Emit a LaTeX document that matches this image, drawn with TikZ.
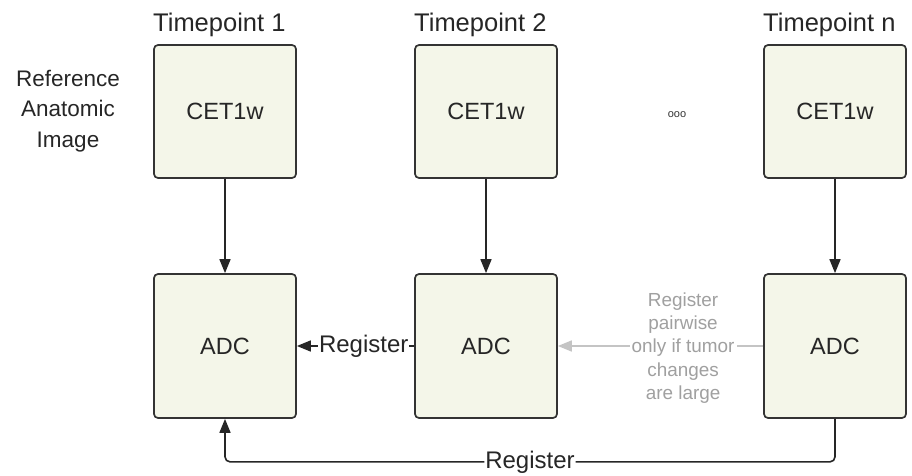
\documentclass[tikz,border=0pt]{standalone}
\usepackage{fontspec}
\setmainfont{Liberation Sans}
\usetikzlibrary{arrows.meta,positioning}
\definecolor{boxfill}{HTML}{F4F6E9}
\definecolor{boxline}{HTML}{333333}
\definecolor{softgray}{HTML}{A0A0A0}
\definecolor{arrowgray}{HTML}{C4C4C4}
\tikzset{
  imgbox/.style={draw=boxline, fill=boxfill, line width=1.7pt, rounded corners=4pt,
    minimum width=142pt, inner sep=0pt,
    font=\fontsize{23.5}{26}\selectfont, text=black!85},
  title/.style={anchor=base west, inner sep=0pt, font=\fontsize{25.5}{30}\selectfont, text=black!85},
  conn/.style={line width=1.6pt, draw=black!85, -{Triangle[length=14pt,width=11pt]}},
  grayconn/.style={line width=1.6pt, draw=arrowgray, -{Triangle[length=14pt,width=11pt]}},
  lbl/.style={fill=white, inner sep=1pt, font=\fontsize{24}{26}\selectfont, text=black!85},
  graylbl/.style={fill=white, inner sep=2pt, align=center, text=softgray,
    font=\fontsize{18.9}{23.4}\selectfont},
}
\begin{document}
\begin{tikzpicture}[x=1pt,y=-1pt]
\useasboundingbox (0,0) rectangle (912,476);
\node[imgbox, minimum height=133pt] (c1) at (225,111.5) {CET1w};
\node[imgbox, minimum height=133pt] (c2) at (486,111.5) {CET1w};
\node[imgbox, minimum height=133pt] (cn) at (835,111.5) {CET1w};
\node[imgbox, minimum height=144pt] (a1) at (225,346) {ADC};
\node[imgbox, minimum height=144pt] (a2) at (486,346) {ADC};
\node[imgbox, minimum height=144pt] (an) at (835,346) {ADC};
\node[title] (t1) at (153,32) {Timepoint 1};
\node[title] (t2) at (414,32) {Timepoint 2};
\node[title] (tn) at (763,32) {Timepoint n};
\node[align=center, inner sep=0pt, text=black!85, font=\fontsize{22.5}{30.5}\selectfont] (ref) at (68,111) {Reference\\Anatomic\\Image};
\node[inner sep=0pt, text=black!80, font=\fontsize{11}{12}\selectfont] (dots) at (677,115) {ooo};
\draw[conn] (c1) -- (a1);
\draw[conn] (c2) -- (a2);
\draw[conn] (cn) -- (an);
\draw[conn] (a2.west) -- node[lbl, pos=0.43] {Register} (a1.east);
\draw[grayconn] (an.west) -- node[graylbl, pos=0.39, yshift=-2pt] {Register\\pairwise\\only if tumor\\changes\\are large} (a2.east);
\draw[conn, rounded corners=5pt] (an.south) -- ++(0,43) -| node[lbl, pos=0.25] {Register} (a1.south);
\end{tikzpicture}
\end{document}
